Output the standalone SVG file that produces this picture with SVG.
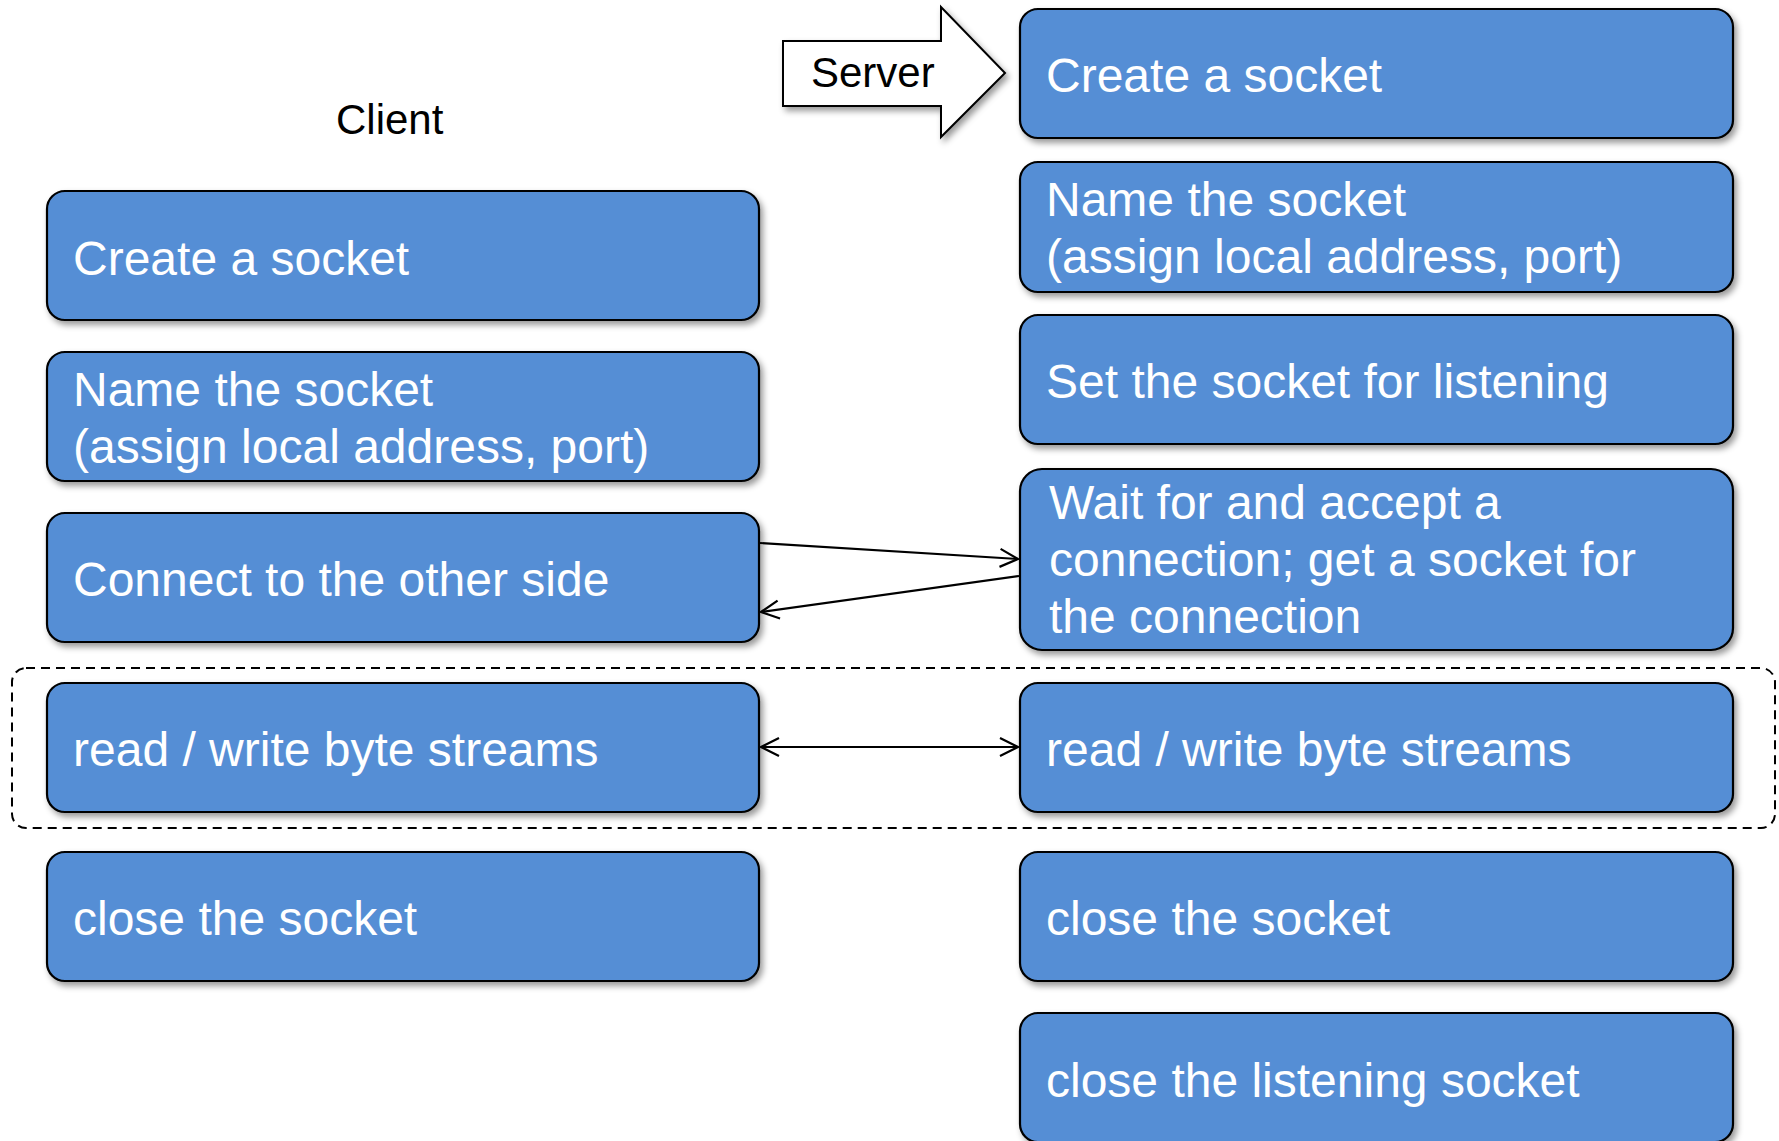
<svg xmlns="http://www.w3.org/2000/svg" width="1779" height="1141" viewBox="0 0 1779 1141">
<defs>
<filter id="sh" x="-5%" y="-10%" width="112%" height="130%">
<feDropShadow dx="3" dy="4" stdDeviation="3" flood-color="#000" flood-opacity="0.4"/>
</filter>
<marker id="ah" viewBox="0 0 24 24" refX="21" refY="12" markerWidth="24" markerHeight="24" markerUnits="userSpaceOnUse" orient="auto-start-reverse">
<path d="M3,3 L21,12 L3,21" fill="none" stroke="#000" stroke-width="2.2"/>
</marker>
<style>
.box{fill:#558ed5;stroke:#000;stroke-width:2.2;filter:url(#sh)}
.t{font-family:"Liberation Sans",Arial,sans-serif;font-size:48px;fill:#fff}
.lbl{font-family:"Liberation Sans",Arial,sans-serif;font-size:42px;fill:#000}
.con{stroke:#000;stroke-width:2.2;fill:none}
</style>
</defs>
<rect width="1779" height="1141" fill="#fff"/>

<g id="client-label"><text class="lbl" x="336" y="134">Client</text></g>

<g id="server-label">
<path d="M783,41 L941,41 L941,7 L1005,73 L941,137 L941,106 L783,106 Z" fill="#fff" stroke="#000" stroke-width="2" filter="url(#sh)"/>
<text class="lbl" x="811" y="87">Server</text>
</g>

<g id="group-rw">
<rect x="12" y="668" width="1763" height="160" rx="14" fill="none" stroke="#000" stroke-width="2" stroke-dasharray="9 6"/>
</g>

<g id="c-create"><rect class="box" x="47" y="191" width="712" height="129" rx="18"/><text class="t" x="73" y="275">Create a socket</text></g>
<g id="c-name"><rect class="box" x="47" y="352" width="712" height="129" rx="18"/><text class="t" x="73" y="406">Name the socket</text><text class="t" x="73" y="463">(assign local address, port)</text></g>
<g id="c-connect"><rect class="box" x="47" y="513" width="712" height="129" rx="18"/><text class="t" x="73" y="596">Connect to the other side</text></g>
<g id="c-rw"><rect class="box" x="47" y="683" width="712" height="129" rx="18"/><text class="t" x="73" y="766">read / write byte streams</text></g>
<g id="c-close"><rect class="box" x="47" y="852" width="712" height="129" rx="18"/><text class="t" x="73" y="935">close the socket</text></g>

<g id="s-create"><rect class="box" x="1020" y="9" width="713" height="129" rx="18"/><text class="t" x="1046" y="92">Create a socket</text></g>
<g id="s-name"><rect class="box" x="1020" y="162" width="713" height="130" rx="18"/><text class="t" x="1046" y="216">Name the socket</text><text class="t" x="1046" y="273">(assign local address, port)</text></g>
<g id="s-listen"><rect class="box" x="1020" y="315" width="713" height="129" rx="18"/><text class="t" x="1046" y="398">Set the socket for listening</text></g>
<g id="s-accept"><rect class="box" x="1020" y="469" width="713" height="181" rx="22"/><text class="t" x="1049" y="519">Wait for and accept a</text><text class="t" x="1049" y="576">connection; get a socket for</text><text class="t" x="1049" y="633">the connection</text></g>
<g id="s-rw"><rect class="box" x="1020" y="683" width="713" height="129" rx="18"/><text class="t" x="1046" y="766">read / write byte streams</text></g>
<g id="s-close"><rect class="box" x="1020" y="852" width="713" height="129" rx="18"/><text class="t" x="1046" y="935">close the socket</text></g>
<g id="s-close-listen"><rect class="box" x="1020" y="1013" width="713" height="129" rx="18"/><text class="t" x="1046" y="1097">close the listening socket</text></g>

<g id="connectors">
<line class="con" x1="760" y1="543" x2="1018" y2="559" marker-end="url(#ah)"/>
<line class="con" x1="1019" y1="576" x2="761" y2="612" marker-end="url(#ah)"/>
<line class="con" x1="761" y1="747" x2="1018" y2="747" marker-start="url(#ah)" marker-end="url(#ah)"/>
</g>
</svg>
